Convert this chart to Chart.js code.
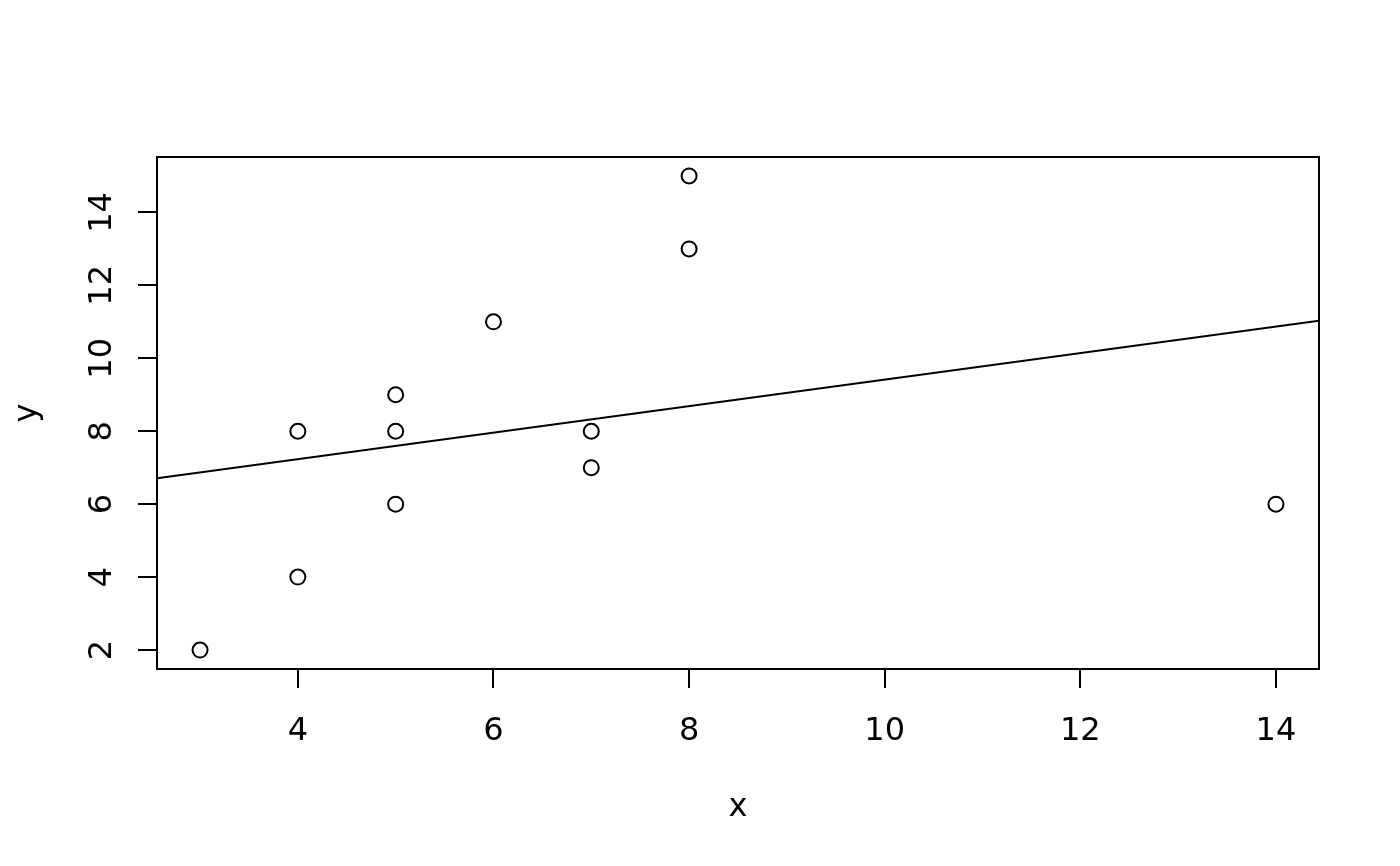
<!DOCTYPE html>
<html>
<head>
<meta charset="utf-8">
<script src="https://cdn.jsdelivr.net/npm/chart.js@4.4.1/dist/chart.umd.min.js"></script>
<style>
  html, body { margin: 0; padding: 0; background: #fff; }
  #wrap { width: 1400px; height: 866px; }
</style>
</head>
<body>
<div id="wrap"><canvas id="plot" width="1400" height="866"></canvas></div>
<script>
// observed points
const xVals = [3, 4, 4, 5, 5, 5, 6, 7, 7, 8, 8, 14];
const yVals = [2, 4, 8, 6, 8, 9, 11, 7, 8, 13, 15, 6];

// fitted line, read at the plot edges
const lineX = [2.56, 14.44];
const lineY = [6.71, 11.03];

const xTicks = [4, 6, 8, 10, 12, 14];
const yTicks = [2, 4, 6, 8, 10, 12, 14];

const xRange = [2.56, 14.44];
const yRange = [1.48, 15.52];

const FONT = { family: 'DejaVu Sans', size: 32 };

// draws the box round the plot region
const boxPlugin = {
  id: 'box',
  afterDraw(chart) {
    const { ctx, chartArea: a } = chart;
    ctx.save();
    ctx.strokeStyle = '#000';
    ctx.lineWidth = 2;
    ctx.strokeRect(a.left, a.top, a.right - a.left, a.bottom - a.top);
    ctx.restore();
  }
};

const ctx = document.getElementById('plot').getContext('2d');

new Chart(ctx, {
  type: 'scatter',
  data: {
    datasets: [
      {
        label: 'points',
        data: xVals.map((x, i) => ({ x, y: yVals[i] })),
        pointStyle: 'circle',
        pointRadius: 7.5,
        pointBorderWidth: 2,
        pointBorderColor: '#000',
        pointBackgroundColor: 'rgba(0,0,0,0)'
      },
      {
        label: 'fit',
        type: 'line',
        data: lineX.map((x, i) => ({ x, y: lineY[i] })),
        borderColor: '#000',
        borderWidth: 2,
        pointRadius: 0,
        fill: false
      }
    ]
  },
  options: {
    responsive: false,
    animation: false,
    events: [],
    layout: { padding: { top: 157, right: 81, left: 0, bottom: 0 } },
    plugins: {
      legend: { display: false },
      tooltip: { enabled: false }
    },
    scales: {
      x: {
        type: 'linear',
        min: xRange[0],
        max: xRange[1],
        afterBuildTicks: s => { s.ticks = xTicks.map(v => ({ value: v })); },
        afterFit: s => { s.height = 197; },
        grid: { drawOnChartArea: false, drawTicks: true, tickLength: 19, lineWidth: 2, color: '#000' },
        border: { display: false },
        ticks: { color: '#000', font: FONT, padding: 24, maxRotation: 0 },
        title: { display: true, text: 'x', color: '#000', font: FONT, padding: { top: 0, bottom: 39 } }
      },
      y: {
        type: 'linear',
        min: yRange[0],
        max: yRange[1],
        afterBuildTicks: s => { s.ticks = yTicks.map(v => ({ value: v })); },
        afterFit: s => { s.width = 157; },
        grid: { drawOnChartArea: false, drawTicks: true, tickLength: 19, lineWidth: 2, color: '#000' },
        border: { display: false },
        ticks: { color: '#000', font: FONT, padding: 15, minRotation: 90, maxRotation: 90, crossAlign: 'center' },
        title: { display: true, text: 'y', color: '#000', font: FONT, padding: { top: 8, bottom: 0 } }
      }
    }
  },
  plugins: [boxPlugin]
});
</script>
</body>
</html>
